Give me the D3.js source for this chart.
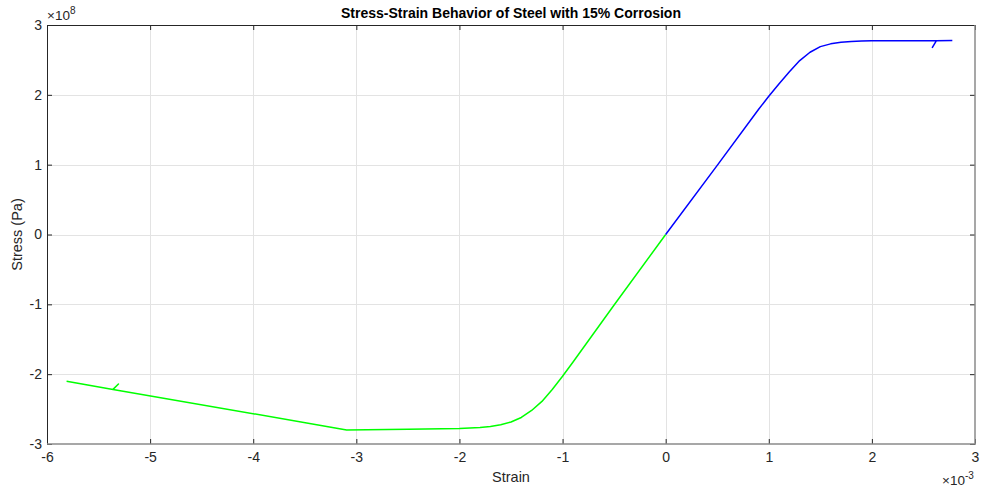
<!DOCTYPE html>
<html><head><meta charset="utf-8">
<script src="https://cdn.jsdelivr.net/npm/d3@7"></script>
<style>body{margin:0;background:#fff}svg{display:block}text{font-family:"Liberation Sans",Arial,sans-serif}</style>
</head><body>
<svg id="c" width="984" height="492"></svg>
<script>
// strain in units of 1e-3, stress in units of 1e8 Pa
const tensionStrain = [0,0.5,0.9,1.0,1.1,1.2,1.3,1.4,1.5,1.6,1.7,1.8,1.9,2.0,2.3,2.5,2.626,2.587,2.626,2.78];
const tensionStress = [0,0.99,1.79,1.98,2.16,2.33,2.49,2.61,2.69,2.73,2.752,2.764,2.77,2.773,2.774,2.775,2.776,2.68,2.776,2.777];
const compStrain = [0,-0.5,-0.9,-1.0,-1.1,-1.2,-1.3,-1.4,-1.5,-1.6,-1.7,-1.8,-2.0,-2.5,-3.094,-5.36,-5.307,-5.36,-5.81];
const compStress = [0,-1.01,-1.83,-2.03,-2.22,-2.39,-2.52,-2.62,-2.685,-2.725,-2.75,-2.765,-2.778,-2.788,-2.798,-2.218,-2.14,-2.218,-2.10];
const xTicks = [-6,-5,-4,-3,-2,-1,0,1,2,3];
const yTicks = [-3,-2,-1,0,1,2,3];
const titleText = "Stress-Strain Behavior of Steel with 15% Corrosion";

const svg = d3.select("#c");
const L=47, R=975, T=25, B=444;
const x = d3.scaleLinear().domain([-6,3]).range([L,R]);
const y = d3.scaleLinear().domain([-3,3]).range([B,T]);

// grid
svg.append("g").selectAll("line").data(xTicks.slice(1,-1)).join("line")
  .attr("x1",d=>Math.round(x(d))+0.5).attr("x2",d=>Math.round(x(d))+0.5).attr("y1",T).attr("y2",B)
  .attr("stroke","#e3e3e3").attr("stroke-width",1);
svg.append("g").selectAll("line").data(yTicks.slice(1,-1)).join("line")
  .attr("y1",d=>Math.round(y(d))+0.5).attr("y2",d=>Math.round(y(d))+0.5).attr("x1",L).attr("x2",R)
  .attr("stroke","#e3e3e3").attr("stroke-width",1);

// lines
const line = d3.line().x(d=>x(d[0])).y(d=>y(d[1]));
const comp = compStrain.map((s,i)=>[s,compStress[i]]);
const tens = tensionStrain.map((s,i)=>[s,tensionStress[i]]);
svg.append("path").datum(comp).attr("d",line).attr("fill","none").attr("stroke","#00ff00").attr("stroke-width",1.5).attr("stroke-linejoin","round");
svg.append("path").datum(tens).attr("d",line).attr("fill","none").attr("stroke","#0000ff").attr("stroke-width",1.5).attr("stroke-linejoin","round");

// axes using d3 axis generators, ticks inward
const fmt = d => String(d);
const ax = (g,axis)=>{g.call(axis); g.select(".domain").remove(); g.selectAll("line").attr("stroke","#262626");};
const gBottom = svg.append("g").attr("transform",`translate(0,${B})`);
ax(gBottom, d3.axisBottom(x).tickValues(xTicks).tickSize(-5).tickPadding(8).tickFormat(fmt));
const gTop = svg.append("g").attr("transform",`translate(0,${T})`);
ax(gTop, d3.axisTop(x).tickValues(xTicks).tickSize(-5).tickFormat(""));
const gLeft = svg.append("g").attr("transform",`translate(${L},0)`);
ax(gLeft, d3.axisLeft(y).tickValues(yTicks).tickSize(-5).tickPadding(5).tickFormat(fmt));
const gRight = svg.append("g").attr("transform",`translate(${R},0)`);
ax(gRight, d3.axisRight(y).tickValues(yTicks).tickSize(-5).tickFormat(""));
svg.selectAll(".tick text").attr("font-size",14).attr("fill","#262626").attr("font-family","Liberation Sans, Arial, sans-serif");

// box
svg.append("line").attr("x1",L).attr("x2",R).attr("y1",T+0.5).attr("y2",T+0.5).attr("stroke","#262626");
svg.append("line").attr("x1",L+0.5).attr("x2",L+0.5).attr("y1",T).attr("y2",B).attr("stroke","#262626");
svg.append("line").attr("x1",L).attr("x2",R+1).attr("y1",B).attr("y2",B).attr("stroke","#8a8a8a").attr("stroke-width",1.5);
svg.append("line").attr("x1",R).attr("x2",R).attr("y1",T).attr("y2",B).attr("stroke","#8a8a8a").attr("stroke-width",1.5);

// labels
svg.append("text").attr("x",(L+R)/2).attr("y",18).attr("text-anchor","middle").attr("font-weight","bold").attr("font-size",14).attr("fill","#000").text(titleText);
svg.append("text").attr("x",(L+R)/2).attr("y",482).attr("text-anchor","middle").attr("font-size",14.5).attr("fill","#262626").text("Strain");
svg.append("text").attr("transform",`translate(22,${(T+B)/2}) rotate(-90)`).attr("text-anchor","middle").attr("font-size",14.5).attr("fill","#262626").text("Stress (Pa)");

const ey = svg.append("text").attr("x",47).attr("y",20).attr("font-size",13.5).attr("fill","#262626");
ey.append("tspan").text("×10");
ey.append("tspan").attr("dy",-6).attr("font-size",10).text("8");
const ex = svg.append("text").attr("x",942).attr("y",485).attr("font-size",13.5).attr("fill","#262626");
ex.append("tspan").text("×10");
ex.append("tspan").attr("dy",-6).attr("font-size",10).text("-3");
</script>
</body></html>
